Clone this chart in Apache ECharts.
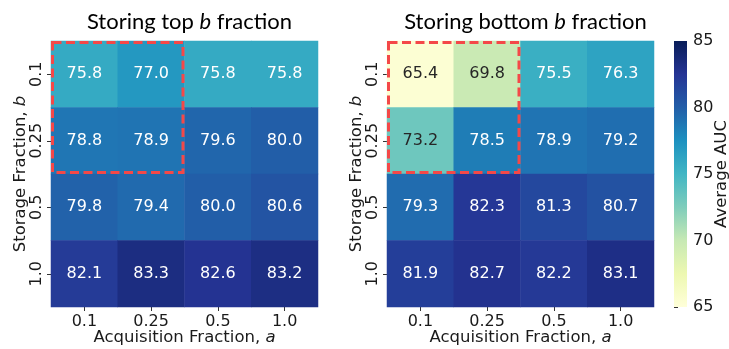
<!DOCTYPE html>
<html>
<head>
<meta charset="utf-8">
<script src="https://cdn.jsdelivr.net/npm/echarts@6/dist/echarts.min.js"></script>
<style>
html,body{margin:0;padding:0;background:#fff;}
#chart{width:729px;height:349px;}
</style>
</head>
<body>
<div id="chart"></div>
<script>
// Data
const acquisitionFractions = ['0.1', '0.25', '0.5', '1.0'];   // x categories (a)
const storageFractions = ['0.1', '0.25', '0.5', '1.0'];       // y categories (b)
// rows = storage fraction b, columns = acquisition fraction a
const topValues = [
  [75.8, 77.0, 75.8, 75.8],
  [78.8, 78.9, 79.6, 80.0],
  [79.8, 79.4, 80.0, 80.6],
  [82.1, 83.3, 82.6, 83.2]
];
const bottomValues = [
  [65.4, 69.8, 75.5, 76.3],
  [73.2, 78.5, 78.9, 79.2],
  [79.3, 82.3, 81.3, 80.7],
  [81.9, 82.7, 82.2, 83.1]
];
const colorbarRange = [65, 85];
const colorbarInterval = 5;
const highlightBox = [0, 0, 1, 1]; // x0, y0, x1, y1 category indices
const ylgnbu = ['#ffffd9', '#edf8b1', '#c7e9b4', '#7fcdbb', '#41b6c4', '#1d91c0', '#225ea8', '#253494', '#081d58'];

const FONT = 'DejaVu Sans';
const TEXT = '#1a1a1a';

function toCells(mat) {
  const out = [];
  mat.forEach((row, yi) => row.forEach((v, xi) => {
    out.push({
      value: [xi, yi, v],
      label: { color: v < 74 ? '#262626' : '#ffffff' }
    });
  }));
  return out;
}

const chart = echarts.init(document.getElementById('chart'), null, { renderer: 'canvas' });

const grids = [
  { left: 51, top: 41, width: 267, height: 266, outerBoundsMode: 'none', containLabel: false },
  { left: 387, top: 41, width: 267, height: 266, outerBoundsMode: 'none', containLabel: false },
  { left: 674, top: 41, width: 13, height: 266, outerBoundsMode: 'none', containLabel: false }
];

function heatX(gi) {
  return {
    type: 'category', gridIndex: gi, data: acquisitionFractions,
    axisLine: { show: false },
    axisTick: { show: true, alignWithLabel: true, length: 4, lineStyle: { color: '#333' } },
    axisLabel: { fontFamily: FONT, fontSize: 16, color: TEXT, margin: 7 },
    splitLine: { show: false },
    name: 'Acquisition Fraction, {i|a}', nameLocation: 'middle', nameGap: 22, nameMoveOverlap: false,
    nameTextStyle: { fontFamily: FONT, fontSize: 16.5, color: TEXT,
      rich: { i: { fontFamily: FONT, fontSize: 16.5, fontStyle: 'italic', color: TEXT } } }
  };
}
function heatY(gi) {
  return {
    type: 'category', gridIndex: gi, data: storageFractions, inverse: true,
    axisLine: { show: false },
    axisTick: { show: true, alignWithLabel: true, length: 4, lineStyle: { color: '#333' } },
    axisLabel: { fontFamily: FONT, fontSize: 16, color: TEXT, rotate: 90, margin: 6 },
    splitLine: { show: false },
    name: 'Storage Fraction, {i|b}', nameLocation: 'middle', nameGap: 22, nameRotate: 90, nameMoveOverlap: false,
    nameTextStyle: { fontFamily: FONT, fontSize: 16.5, color: TEXT,
      rich: { i: { fontFamily: FONT, fontSize: 16.5, fontStyle: 'italic', color: TEXT } } }
  };
}

function heatSeries(idx, mat) {
  return {
    type: 'heatmap', xAxisIndex: idx, yAxisIndex: idx,
    data: toCells(mat),
    label: { show: true, fontFamily: FONT, fontSize: 16,
      formatter: p => p.value[2].toFixed(1) },
    itemStyle: { borderWidth: 0 },
    emphasis: { disabled: true },
    progressive: 0
  };
}

function boxSeries(idx) {
  return {
    type: 'custom', xAxisIndex: idx, yAxisIndex: idx, z: 10, silent: true,
    encode: { x: [0, 2], y: [1, 3] },
    data: [highlightBox],
    renderItem: function (params, api) {
      const p0 = api.coord([api.value(0), api.value(1)]);
      const p1 = api.coord([api.value(2), api.value(3)]);
      const s = api.size([1, 1]);
      const inset = 1.5;
      const x = p0[0] - s[0] / 2 + inset;
      const y = p0[1] - s[1] / 2 + inset;
      return {
        type: 'rect',
        shape: { x: x, y: y, width: p1[0] - p0[0] + s[0] - 2 * inset, height: p1[1] - p0[1] + s[1] - 2 * inset },
        style: { fill: 'none', stroke: '#f44848', lineWidth: 3, lineDash: [9, 4.5] }
      };
    }
  };
}

const colorbarSeries = {
  type: 'custom', xAxisIndex: 2, yAxisIndex: 2, silent: true,
  encode: { x: 0, y: [1, 2] },
  data: [[0, colorbarRange[0], colorbarRange[1]]],
  renderItem: function (params, api) {
    const lo = api.coord([0, api.value(1)]);
    const hi = api.coord([1, api.value(2)]);
    const stops = ylgnbu.map((c, i) => ({ offset: i / (ylgnbu.length - 1), color: c }));
    return {
      type: 'rect',
      shape: { x: lo[0], y: hi[1], width: hi[0] - lo[0], height: lo[1] - hi[1] },
      style: { fill: new echarts.graphic.LinearGradient(0, 1, 0, 0, stops) }
    };
  }
};

const option = {
  animation: false,
  backgroundColor: '#ffffff',
  title: [
    { text: 'Storing top {i|b} fraction', left: 184.5, textAlign: 'center', top: 6,
      textStyle: { fontFamily: 'Lato', fontSize: 22, fontWeight: 'normal', color: '#000',
        rich: { i: { fontFamily: 'Lato', fontSize: 22, fontStyle: 'italic', color: '#000' } } } },
    { text: 'Storing bottom {i|b} fraction', left: 520.5, textAlign: 'center', top: 6,
      textStyle: { fontFamily: 'Lato', fontSize: 22, fontWeight: 'normal', color: '#000',
        rich: { i: { fontFamily: 'Lato', fontSize: 22, fontStyle: 'italic', color: '#000' } } } }
  ],
  grid: grids,
  xAxis: [heatX(0), heatX(1), { type: 'value', gridIndex: 2, show: false, min: 0, max: 1 }],
  yAxis: [heatY(0), heatY(1), {
    type: 'value', gridIndex: 2, position: 'right',
    min: colorbarRange[0], max: colorbarRange[1], interval: colorbarInterval,
    axisLine: { show: false },
    axisTick: { show: true, length: 4, lineStyle: { color: '#333' } },
    axisLabel: { fontFamily: FONT, fontSize: 16, color: TEXT, margin: 6 },
    splitLine: { show: false },
    name: 'Average AUC', nameLocation: 'middle', nameRotate: 90, nameGap: 26, nameMoveOverlap: false,
    nameTextStyle: { fontFamily: FONT, fontSize: 16.5, color: TEXT }
  }],
  visualMap: {
    type: 'continuous', min: colorbarRange[0], max: colorbarRange[1], seriesIndex: [0, 1],
    inRange: { color: ylgnbu }, show: false
  },
  series: [heatSeries(0, topValues), heatSeries(1, bottomValues), boxSeries(0), boxSeries(1), colorbarSeries]
};
chart.setOption(option);
</script>
</body>
</html>
